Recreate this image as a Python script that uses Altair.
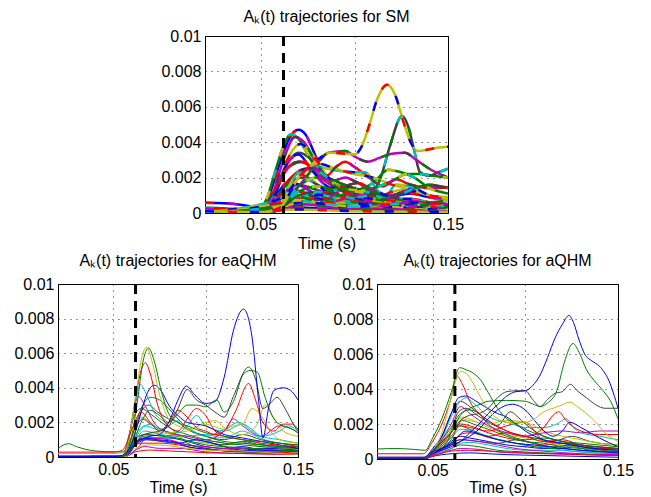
import altair as alt
import pandas as pd

# ---------------- data (amplitudes in units of 1e-3) ----------------
X_TICKS = [0.05, 0.1, 0.15]
Y_TICKS = [0, 2, 4, 6, 8, 10]
Y_TICK_LABELS = ["0", "0.002", "0.004", "0.006", "0.008", "0.01"]
X_DOMAIN = [0.02, 0.15]
Y_DOMAIN = [0, 10]
DASH_T = 0.062

TITLES = ["A\u2096(t) trajectories for SM",
          "A\u2096(t) trajectories for eaQHM",
          "A\u2096(t) trajectories for aQHM"]

SM_LOW = [
    [(0.02,0.1),(0.048,0.05),(0.055,0.6),(0.062,1.5),(0.07,2.2),(0.078,1.8),(0.085,1.2),(0.095,0.9),(0.105,0.7),(0.115,1.0),(0.125,1.3),(0.135,1.0),(0.15,0.7)],
    [(0.02,0.05),(0.05,0.05),(0.056,0.5),(0.063,1.2),(0.07,1.6),(0.08,1.3),(0.09,1.0),(0.1,0.6),(0.11,0.5),(0.12,0.8),(0.13,0.6),(0.14,0.4),(0.15,0.3)],
    [(0.02,0.15),(0.048,0.1),(0.055,0.4),(0.062,0.9),(0.07,1.2),(0.08,1.0),(0.09,0.7),(0.1,0.5),(0.11,0.4),(0.12,0.5),(0.13,0.3),(0.15,0.2)],
    [(0.02,0.02),(0.05,0.05),(0.058,0.8),(0.066,2.0),(0.074,2.5),(0.082,2.0),(0.09,1.4),(0.1,1.1),(0.11,0.9),(0.12,0.7),(0.13,0.8),(0.14,0.6),(0.15,0.5)],
    [(0.02,0.05),(0.05,0.1),(0.06,0.7),(0.07,0.9),(0.08,0.8),(0.09,0.6),(0.1,0.5),(0.11,0.6),(0.12,0.4),(0.13,0.3),(0.15,0.2)],
    [(0.02,0.03),(0.052,0.1),(0.06,0.4),(0.068,0.6),(0.078,0.7),(0.088,0.5),(0.098,0.4),(0.108,0.3),(0.118,0.5),(0.128,0.4),(0.14,0.3),(0.15,0.3)],
    [(0.02,0.05),(0.05,0.05),(0.058,1.0),(0.065,1.8),(0.072,1.5),(0.08,1.1),(0.09,1.3),(0.1,1.0),(0.11,0.7),(0.12,0.9),(0.13,1.1),(0.14,0.9),(0.15,0.8)],
    [(0.02,0.02),(0.055,0.2),(0.063,0.5),(0.07,0.4),(0.08,0.6),(0.09,0.4),(0.1,0.3),(0.11,0.3),(0.12,0.2),(0.13,0.25),(0.15,0.15)],
    [(0.02,0.03),(0.05,0.05),(0.058,1.4),(0.065,2.6),(0.072,2.9),(0.08,2.3),(0.088,1.8),(0.095,2.0),(0.1,1.8),(0.11,1.2),(0.12,1.0),(0.13,1.4),(0.14,1.5),(0.15,1.45)],
    [(0.02,0.02),(0.055,0.1),(0.065,0.3),(0.075,0.3),(0.085,0.2),(0.1,0.15),(0.12,0.1),(0.15,0.1)],
    [(0.02,0.05),(0.05,0.05),(0.06,1.1),(0.068,1.3),(0.076,1.0),(0.085,0.8),(0.095,1.5),(0.102,1.7),(0.11,1.3),(0.12,0.9),(0.13,0.7),(0.15,0.5)],
    [(0.02,0.02),(0.05,0.03),(0.057,0.3),(0.065,0.8),(0.075,1.0),(0.085,1.0),(0.095,0.7),(0.105,0.5),(0.115,0.6),(0.125,0.8),(0.14,0.6),(0.15,0.5)],
    [(0.02,0.05),(0.048,0.05),(0.056,0.7),(0.064,1.6),(0.072,2.0),(0.08,1.6),(0.09,1.1),(0.1,0.8),(0.11,0.6),(0.12,0.5),(0.13,0.5),(0.15,0.4)],
    [(0.02,0.02),(0.055,0.05),(0.06,0.2),(0.07,0.3),(0.09,0.2),(0.11,0.2),(0.13,0.15),(0.15,0.1)],
    [(0.02,0.02),(0.05,0.02),(0.06,0.3),(0.07,0.6),(0.08,0.5),(0.09,0.35),(0.1,0.4),(0.11,0.3),(0.12,0.35),(0.13,0.2),(0.15,0.15)],
    [(0.02,0.08),(0.05,0.05),(0.058,0.5),(0.066,0.9),(0.076,0.8),(0.086,0.6),(0.096,0.8),(0.106,0.6),(0.116,0.4),(0.126,0.6),(0.136,0.5),(0.15,0.4)],
    [(0.02,0.02),(0.052,0.05),(0.062,0.2),(0.072,0.5),(0.082,0.4),(0.092,0.25),(0.102,0.2),(0.112,0.25),(0.125,0.2),(0.15,0.1)],
    [(0.02,0.05),(0.05,0.05),(0.057,0.4),(0.064,1.0),(0.072,0.9),(0.08,0.6),(0.09,0.9),(0.1,1.2),(0.11,1.0),(0.12,0.7),(0.13,0.5),(0.14,0.6),(0.15,0.7)],
    [(0.02,0.02),(0.053,0.1),(0.06,0.5),(0.07,0.7),(0.08,0.55),(0.09,0.45),(0.1,0.35),(0.11,0.45),(0.12,0.6),(0.13,0.45),(0.15,0.3)],
    [(0.02,0.03),(0.05,0.03),(0.06,0.15),(0.07,0.2),(0.085,0.15),(0.1,0.1),(0.12,0.08),(0.15,0.05)],
]
SM_LOW_COLORS = "YMGRCKBYMGRCKBYRMGCY"

SM_MAIN = [
    [(0.02,0.58),(0.03,0.55),(0.04,0.45),(0.047,0.3),(0.05,0.2),(0.055,1.2),(0.06,2.8),(0.065,4.2),(0.07,4.7),(0.074,4.4),(0.078,3.5),(0.083,2.3),(0.088,1.6),(0.093,1.3),(0.1,0.9),(0.11,0.6),(0.12,0.5),(0.13,0.4),(0.14,0.35),(0.15,0.3)],
    [(0.02,0.3),(0.04,0.2),(0.048,0.1),(0.053,0.8),(0.058,2.5),(0.062,3.8),(0.066,4.45),(0.07,4.2),(0.075,3.3),(0.08,2.4),(0.085,2.0),(0.09,1.6),(0.1,1.0),(0.11,0.7),(0.12,0.6),(0.13,0.5),(0.15,0.4)],
    [(0.02,0.05),(0.05,0.05),(0.056,1.0),(0.062,3.0),(0.068,4.3),(0.073,4.0),(0.078,3.1),(0.085,2.0),(0.095,1.2),(0.11,0.8),(0.13,0.5),(0.15,0.4)],
    [(0.02,0.05),(0.052,0.1),(0.058,1.2),(0.064,3.0),(0.071,3.9),(0.077,3.4),(0.082,2.6),(0.09,1.5),(0.1,1.0),(0.12,0.7),(0.15,0.5)],
    [(0.02,0.02),(0.05,0.05),(0.056,0.8),(0.063,2.6),(0.07,3.4),(0.076,3.1),(0.082,2.3),(0.09,1.8),(0.1,1.4),(0.11,1.1),(0.12,0.9),(0.13,1.3),(0.14,1.6),(0.15,1.4)],
    [(0.02,0.05),(0.05,0.05),(0.057,0.9),(0.064,2.8),(0.07,3.3),(0.076,2.6),(0.082,1.8),(0.088,1.4),(0.095,1.5),(0.1,1.1),(0.11,0.6),(0.12,0.5),(0.13,0.6),(0.15,0.5)],
    [(0.02,0.25),(0.045,0.2),(0.05,0.2),(0.056,1.1),(0.062,2.3),(0.07,2.9),(0.078,2.6),(0.085,2.1),(0.09,2.6),(0.095,2.9),(0.1,2.6),(0.108,2.0),(0.115,1.5),(0.122,1.9),(0.13,1.6),(0.14,1.4),(0.15,1.45)],
    [(0.02,0.02),(0.06,0.3),(0.07,1.0),(0.08,1.2),(0.09,1.0),(0.1,0.9),(0.108,1.0),(0.114,2.0),(0.119,3.8),(0.1254,5.48),(0.129,4.8),(0.132,3.5),(0.135,2.3),(0.14,2.1),(0.145,2.3),(0.15,2.5)],
    [(0.02,0.05),(0.06,0.5),(0.07,1.5),(0.08,2.8),(0.086,3.4),(0.095,3.5),(0.1,3.2),(0.107,2.9),(0.113,3.1),(0.12,3.35),(0.127,3.4),(0.133,3.0),(0.14,2.5),(0.15,2.0)],
    [(0.02,0.05),(0.06,0.3),(0.07,1.5),(0.08,2.0),(0.09,1.6),(0.1,1.3),(0.11,1.7),(0.118,2.45),(0.125,2.3),(0.132,2.0),(0.14,1.4),(0.15,1.1)],
    [(0.02,0.05),(0.06,0.8),(0.07,2.3),(0.08,2.6),(0.09,2.4),(0.1,2.3),(0.106,2.3),(0.112,1.3),(0.117,1.0),(0.122,1.6),(0.13,1.5),(0.14,1.0),(0.15,0.8)],
    [(0.02,0.03),(0.06,0.6),(0.07,2.0),(0.08,2.8),(0.09,2.5),(0.1,2.2),(0.11,2.0),(0.12,1.6),(0.13,1.3),(0.14,1.0),(0.15,0.9)],
    [(0.02,0.02),(0.06,0.4),(0.07,1.2),(0.08,1.5),(0.09,1.3),(0.1,1.2),(0.11,1.4),(0.12,1.8),(0.128,2.2),(0.135,2.2),(0.142,2.1),(0.15,2.0)],
    [(0.02,0.1),(0.05,0.05),(0.06,0.3),(0.07,2.0),(0.08,3.0),(0.087,3.4),(0.095,3.35),(0.1,3.3),(0.104,3.8),(0.108,5.0),(0.112,6.4),(0.1175,7.25),(0.122,6.6),(0.126,5.2),(0.13,4.0),(0.134,3.5),(0.14,3.6),(0.145,3.7),(0.15,3.75)],
]
SM_MAIN_COLORS = "BGMYKBRKMGCYGY"

EA_LOW = [
    [(0.02,0.02),(0.056,0.05),(0.06,0.5),(0.064,1.0),(0.07,1.1),(0.08,1.1),(0.09,0.9),(0.1,0.6),(0.11,0.5),(0.12,0.6),(0.13,0.4),(0.14,0.35),(0.15,0.3)],
    [(0.02,0.05),(0.057,0.05),(0.062,0.8),(0.066,1.2),(0.075,1.25),(0.085,1.2),(0.09,0.8),(0.1,0.5),(0.11,0.4),(0.12,0.5),(0.13,0.3),(0.15,0.2)],
    [(0.02,0.02),(0.056,0.05),(0.061,0.6),(0.065,0.8),(0.075,0.8),(0.085,0.7),(0.095,0.5),(0.105,0.4),(0.12,0.3),(0.135,0.3),(0.15,0.2)],
    [(0.02,0.03),(0.056,0.05),(0.062,1.0),(0.067,1.5),(0.072,1.4),(0.08,1.2),(0.088,1.0),(0.095,0.8),(0.105,0.9),(0.115,0.7),(0.125,0.9),(0.135,0.6),(0.15,0.5)],
    [(0.02,0.02),(0.057,0.05),(0.062,0.4),(0.067,0.6),(0.075,0.5),(0.085,0.5),(0.1,0.3),(0.12,0.2),(0.15,0.15)],
    [(0.02,0.2),(0.05,0.2),(0.056,0.25),(0.061,0.9),(0.066,1.3),(0.075,1.4),(0.082,1.3),(0.09,1.1),(0.1,0.8),(0.11,0.7),(0.12,0.8),(0.13,0.6),(0.14,0.5),(0.15,0.5)],
    [(0.02,0.02),(0.056,0.05),(0.062,1.7),(0.066,2.2),(0.07,1.9),(0.078,1.5),(0.085,1.3),(0.09,1.1),(0.1,0.9),(0.11,0.7),(0.12,0.9),(0.13,0.7),(0.15,0.6)],
    [(0.02,0.02),(0.057,0.05),(0.062,0.7),(0.068,1.0),(0.076,0.9),(0.085,0.8),(0.095,1.0),(0.1,0.9),(0.11,0.6),(0.12,0.4),(0.13,0.5),(0.15,0.4)],
    [(0.02,0.02),(0.056,0.05),(0.061,2.3),(0.065,2.8),(0.07,2.5),(0.076,2.0),(0.082,1.6),(0.09,1.3),(0.1,1.0),(0.11,0.8),(0.12,0.7),(0.13,0.6),(0.15,0.5)],
    [(0.02,0.02),(0.057,0.05),(0.062,0.3),(0.07,0.4),(0.08,0.35),(0.09,0.3),(0.1,0.25),(0.12,0.2),(0.15,0.15)],
    [(0.02,0.02),(0.056,0.05),(0.062,1.3),(0.067,1.8),(0.073,1.6),(0.08,1.4),(0.09,1.2),(0.1,1.3),(0.11,1.1),(0.12,1.5),(0.125,1.3),(0.135,0.9),(0.15,0.7)],
    [(0.02,0.02),(0.056,0.05),(0.063,0.5),(0.068,1.1),(0.08,1.0),(0.09,0.7),(0.1,0.6),(0.11,0.5),(0.12,0.5),(0.13,0.4),(0.15,0.3)],
    [(0.02,0.02),(0.057,0.05),(0.062,0.9),(0.067,1.0),(0.075,0.95),(0.085,0.8),(0.095,0.6),(0.11,0.35),(0.13,0.25),(0.15,0.2)],
    [(0.02,0.05),(0.056,0.05),(0.061,0.7),(0.066,1.1),(0.074,1.0),(0.082,0.9),(0.09,0.6),(0.1,0.45),(0.115,0.35),(0.13,0.4),(0.15,0.35)],
    [(0.02,0.02),(0.057,0.03),(0.062,0.5),(0.07,0.7),(0.08,0.65),(0.09,0.5),(0.1,0.4),(0.12,0.35),(0.14,0.2),(0.15,0.15)],
    [(0.02,0.02),(0.056,0.05),(0.062,1.1),(0.068,1.3),(0.076,1.2),(0.084,1.1),(0.092,0.9),(0.1,0.7),(0.11,0.6),(0.125,0.5),(0.14,0.4),(0.15,0.35)],
]
EA_LOW_COLORS = "BGRCMYKBGRCMKBYG"

EA_MAIN = [
    [(0.02,0.5),(0.0257,0.77),(0.03,0.6),(0.04,0.35),(0.05,0.3),(0.055,0.3),(0.06,1.2),(0.065,2.8),(0.07,3.45),(0.075,3.3),(0.08,2.8),(0.085,2.2),(0.09,1.7),(0.1,1.2),(0.11,0.9),(0.12,0.8),(0.13,0.7),(0.15,0.5)],
    [(0.02,0.02),(0.055,0.05),(0.059,1.5),(0.0635,3.5),(0.067,3.0),(0.072,2.0),(0.08,1.4),(0.09,1.2),(0.1,1.0),(0.11,1.5),(0.115,2.2),(0.12,1.8),(0.13,1.2),(0.14,1.8),(0.145,1.7),(0.15,1.4)],
    [(0.02,0.02),(0.055,0.05),(0.06,0.9),(0.065,2.6),(0.069,3.0),(0.074,2.6),(0.08,2.2),(0.085,2.0),(0.09,1.6),(0.1,1.2),(0.11,1.0),(0.12,1.3),(0.13,1.0),(0.14,0.8),(0.15,0.7)],
    [(0.02,0.02),(0.056,0.05),(0.06,1.0),(0.065,2.3),(0.07,2.0),(0.075,1.6),(0.08,1.4),(0.09,1.5),(0.1,2.0),(0.105,2.1),(0.11,1.7),(0.115,1.4),(0.12,1.3),(0.128,1.9),(0.132,3.0),(0.136,2.4),(0.142,1.5),(0.15,1.2)],
    [(0.02,0.02),(0.056,0.05),(0.06,0.6),(0.065,1.6),(0.07,1.9),(0.075,1.6),(0.08,1.8),(0.085,2.1),(0.09,1.7),(0.1,1.2),(0.11,1.6),(0.118,2.0),(0.125,1.5),(0.13,1.2),(0.14,1.5),(0.145,1.8),(0.15,1.5)],
    [(0.02,0.02),(0.055,0.05),(0.058,1.0),(0.062,3.2),(0.0645,4.2),(0.068,3.6),(0.072,2.6),(0.078,2.0),(0.085,1.4),(0.09,1.8),(0.095,2.4),(0.1,1.8),(0.11,1.5),(0.12,1.9),(0.125,1.6),(0.13,1.2),(0.14,1.0),(0.15,0.8)],
    [(0.02,0.02),(0.055,0.05),(0.06,0.8),(0.064,2.2),(0.068,3.6),(0.072,4.15),(0.076,3.8),(0.08,3.0),(0.085,2.4),(0.09,2.0),(0.1,1.8),(0.11,1.3),(0.12,1.1),(0.13,0.9),(0.14,0.7),(0.15,0.5)],
    [(0.02,0.02),(0.055,0.05),(0.058,0.9),(0.062,3.4),(0.065,5.0),(0.0673,5.45),(0.07,4.8),(0.074,3.0),(0.078,2.0),(0.085,1.5),(0.09,2.2),(0.095,2.8),(0.1,2.4),(0.105,1.5),(0.11,1.2),(0.12,1.0),(0.13,0.8),(0.15,0.6)],
    [(0.02,0.02),(0.055,0.05),(0.059,0.8),(0.063,3.2),(0.066,5.5),(0.069,6.3),(0.072,5.6),(0.076,3.8),(0.08,2.5),(0.085,2.0),(0.09,1.8),(0.1,1.4),(0.11,1.2),(0.12,1.0),(0.13,0.9),(0.14,0.8),(0.15,0.6)],
    [(0.02,0.02),(0.055,0.05),(0.058,0.8),(0.062,3.5),(0.066,6.0),(0.068,6.35),(0.071,5.5),(0.075,3.6),(0.08,2.2),(0.085,1.8),(0.09,1.6),(0.1,1.9),(0.11,1.6),(0.115,1.8),(0.12,1.9),(0.125,2.8),(0.13,2.4),(0.135,1.5),(0.14,1.0),(0.15,0.8)],
    [(0.02,0.28),(0.05,0.28),(0.055,0.4),(0.06,1.6),(0.065,2.6),(0.07,2.0),(0.075,1.5),(0.08,2.0),(0.085,2.7),(0.09,2.3),(0.095,1.7),(0.1,1.5),(0.105,1.3),(0.11,1.5),(0.116,2.6),(0.1233,4.25),(0.127,3.3),(0.131,2.0),(0.137,1.5),(0.142,1.9),(0.147,1.9),(0.15,1.6)],
    [(0.02,0.02),(0.055,0.05),(0.06,0.6),(0.065,2.0),(0.07,2.7),(0.075,2.4),(0.08,2.0),(0.085,2.5),(0.09,3.0),(0.095,3.0),(0.1,2.9),(0.106,3.3),(0.11,2.6),(0.115,3.2),(0.1205,4.8),(0.124,5.0),(0.128,4.9),(0.132,3.5),(0.137,2.2),(0.142,1.8),(0.147,1.6),(0.15,1.4)],
    [(0.02,0.02),(0.055,0.05),(0.06,0.5),(0.065,1.2),(0.07,1.4),(0.075,1.5),(0.08,1.8),(0.085,2.8),(0.09,3.9),(0.095,3.3),(0.1,3.0),(0.105,2.6),(0.11,2.3),(0.115,3.5),(0.1233,5.2),(0.127,4.5),(0.131,2.8),(0.135,3.1),(0.1386,3.45),(0.143,2.8),(0.148,1.8),(0.15,1.5)],
    [(0.02,0.02),(0.05,0.02),(0.055,0.1),(0.06,0.6),(0.065,1.0),(0.07,1.2),(0.075,1.3),(0.08,2.0),(0.085,3.3),(0.0895,4.1),(0.094,3.6),(0.1,3.1),(0.105,3.2),(0.11,4.6),(0.115,7.3),(0.1205,8.55),(0.125,7.0),(0.1287,3.2),(0.131,1.1),(0.134,2.8),(0.137,3.85),(0.142,4.0),(0.146,3.85),(0.15,3.3)],
]
EA_MAIN_COLORS = "GMKYCCBRGYRGKB"

AQ_LOW = [
    [(0.02,0.05),(0.046,0.05),(0.05,0.3),(0.055,0.6),(0.06,1.0),(0.065,1.3),(0.07,1.2),(0.08,1.0),(0.09,0.8),(0.1,0.7),(0.11,0.6),(0.12,0.6),(0.13,0.5),(0.15,0.4)],
    [(0.02,0.02),(0.046,0.03),(0.05,0.2),(0.055,0.4),(0.06,0.6),(0.065,0.8),(0.075,0.7),(0.085,0.5),(0.1,0.4),(0.12,0.3),(0.15,0.2)],
    [(0.02,0.1),(0.046,0.1),(0.05,0.5),(0.055,1.0),(0.06,1.6),(0.065,2.0),(0.07,1.9),(0.08,1.5),(0.09,1.2),(0.1,1.0),(0.11,0.8),(0.12,0.9),(0.13,0.7),(0.14,0.6),(0.15,0.5)],
    [(0.02,0.02),(0.046,0.03),(0.05,0.3),(0.06,1.2),(0.065,1.7),(0.072,1.6),(0.08,1.3),(0.09,1.0),(0.1,0.8),(0.11,0.7),(0.12,0.5),(0.13,0.4),(0.15,0.3)],
    [(0.02,0.05),(0.046,0.05),(0.05,0.2),(0.06,0.5),(0.065,0.6),(0.075,0.55),(0.085,0.4),(0.095,0.35),(0.11,0.3),(0.13,0.25),(0.15,0.2)],
    [(0.02,0.02),(0.046,0.03),(0.05,0.4),(0.056,1.0),(0.062,2.0),(0.066,2.4),(0.072,2.2),(0.08,1.8),(0.09,1.4),(0.1,1.2),(0.11,1.0),(0.12,0.8),(0.13,0.7),(0.14,0.6),(0.15,0.5)],
    [(0.02,0.02),(0.046,0.03),(0.05,0.25),(0.06,0.9),(0.065,1.1),(0.075,1.0),(0.085,0.9),(0.095,1.1),(0.105,0.9),(0.115,0.7),(0.125,0.8),(0.135,0.6),(0.15,0.4)],
    [(0.02,0.02),(0.046,0.03),(0.05,0.15),(0.06,0.3),(0.07,0.35),(0.08,0.3),(0.09,0.25),(0.11,0.2),(0.13,0.15),(0.15,0.1)],
    [(0.02,0.05),(0.046,0.05),(0.05,0.4),(0.058,1.3),(0.064,1.9),(0.07,1.7),(0.078,1.3),(0.086,1.1),(0.095,0.9),(0.105,0.7),(0.115,0.6),(0.125,0.7),(0.135,0.5),(0.15,0.4)],
    [(0.02,0.02),(0.046,0.03),(0.05,0.3),(0.06,0.8),(0.065,1.4),(0.07,1.5),(0.08,1.3),(0.09,1.5),(0.1,1.3),(0.11,1.0),(0.12,1.1),(0.13,0.8),(0.14,0.6),(0.15,0.6)],
    [(0.02,0.02),(0.046,0.03),(0.05,0.2),(0.06,0.6),(0.065,0.9),(0.07,0.95),(0.08,0.8),(0.09,0.6),(0.1,0.5),(0.12,0.5),(0.13,0.4),(0.15,0.3)],
    [(0.02,0.02),(0.046,0.03),(0.05,0.3),(0.058,1.0),(0.064,2.7),(0.068,2.9),(0.074,2.5),(0.08,2.1),(0.088,1.7),(0.095,1.4),(0.105,1.2),(0.115,1.0),(0.125,1.3),(0.135,1.0),(0.15,0.8)],
    [(0.02,0.02),(0.046,0.03),(0.05,0.2),(0.058,0.7),(0.065,1.1),(0.075,1.0),(0.085,0.8),(0.095,0.6),(0.11,0.45),(0.13,0.3),(0.15,0.25)],
    [(0.02,0.05),(0.046,0.05),(0.05,0.3),(0.06,0.9),(0.068,1.6),(0.076,1.4),(0.085,1.1),(0.095,0.9),(0.105,0.8),(0.12,0.6),(0.135,0.45),(0.15,0.35)],
    [(0.02,0.02),(0.046,0.03),(0.05,0.15),(0.06,0.45),(0.07,0.5),(0.08,0.45),(0.09,0.4),(0.1,0.35),(0.12,0.3),(0.15,0.2)],
    [(0.02,0.02),(0.046,0.03),(0.05,0.35),(0.06,1.1),(0.066,2.2),(0.072,2.0),(0.08,1.7),(0.09,1.3),(0.1,1.0),(0.11,0.9),(0.12,0.7),(0.13,0.6),(0.15,0.5)],
]
AQ_LOW_COLORS = "BGRCMYKBGRCKMBRG"

AQ_MAIN = [
    [(0.02,0.02),(0.046,0.05),(0.05,0.3),(0.06,1.3),(0.065,1.9),(0.07,1.8),(0.08,1.6),(0.09,1.9),(0.1,2.1),(0.105,1.6),(0.11,1.0),(0.12,0.9),(0.13,0.8),(0.15,0.6)],
    [(0.02,0.02),(0.046,0.05),(0.05,0.3),(0.06,1.6),(0.065,2.3),(0.07,2.2),(0.08,2.0),(0.09,2.2),(0.1,2.1),(0.11,1.6),(0.12,1.3),(0.13,1.1),(0.14,0.9),(0.15,0.8)],
    [(0.02,0.05),(0.046,0.05),(0.05,0.5),(0.06,1.8),(0.065,2.6),(0.07,2.8),(0.075,2.6),(0.08,2.0),(0.09,1.4),(0.1,1.1),(0.11,1.2),(0.12,1.0),(0.13,0.8),(0.15,0.6)],
    [(0.02,0.05),(0.046,0.05),(0.05,0.4),(0.06,2.0),(0.065,3.0),(0.07,2.6),(0.08,1.9),(0.09,1.5),(0.1,1.3),(0.11,1.5),(0.12,1.6),(0.13,1.5),(0.14,1.6),(0.15,1.6)],
    [(0.02,0.05),(0.046,0.05),(0.05,0.4),(0.055,1.3),(0.06,2.6),(0.065,3.3),(0.07,3.0),(0.075,2.6),(0.08,2.2),(0.085,1.9),(0.092,2.7),(0.096,2.4),(0.1,2.0),(0.11,1.3),(0.12,1.0),(0.13,0.8),(0.15,0.6)],
    [(0.02,0.05),(0.046,0.05),(0.05,0.5),(0.055,1.2),(0.06,2.4),(0.065,3.3),(0.068,3.5),(0.072,3.2),(0.078,2.6),(0.085,2.2),(0.09,2.1),(0.1,1.8),(0.11,1.8),(0.117,2.0),(0.122,2.3),(0.126,1.8),(0.13,1.5),(0.14,1.3),(0.15,1.1)],
    [(0.02,0.02),(0.046,0.05),(0.05,0.3),(0.06,0.7),(0.065,1.0),(0.07,1.3),(0.075,1.7),(0.08,2.3),(0.085,2.8),(0.093,3.13),(0.1,2.8),(0.105,2.2),(0.11,1.6),(0.115,1.3),(0.12,1.6),(0.124,2.1),(0.13,1.8),(0.14,1.2),(0.15,0.7)],
    [(0.02,0.1),(0.046,0.1),(0.05,0.6),(0.055,1.3),(0.06,2.6),(0.064,3.5),(0.068,3.6),(0.072,3.4),(0.078,3.0),(0.085,2.6),(0.09,2.4),(0.095,2.0),(0.1,1.6),(0.11,1.1),(0.12,0.9),(0.13,0.7),(0.15,0.5)],
    [(0.02,0.3),(0.045,0.3),(0.05,1.0),(0.055,2.0),(0.06,3.5),(0.063,4.75),(0.066,4.3),(0.07,3.3),(0.075,2.6),(0.08,2.2),(0.09,1.6),(0.1,1.3),(0.11,1.8),(0.115,2.5),(0.118,2.7),(0.122,2.2),(0.13,1.6),(0.14,1.4),(0.15,1.4)],
    [(0.02,0.05),(0.045,0.05),(0.05,0.5),(0.055,1.5),(0.06,3.5),(0.065,5.0),(0.068,4.9),(0.072,4.3),(0.076,3.5),(0.08,2.8),(0.085,2.3),(0.09,2.1),(0.1,2.1),(0.105,2.3),(0.11,2.7),(0.115,2.9),(0.12,3.1),(0.124,3.25),(0.128,3.0),(0.133,2.6),(0.138,2.1),(0.143,1.5),(0.15,1.0)],
    [(0.02,0.57),(0.03,0.6),(0.04,0.55),(0.046,0.5),(0.05,1.2),(0.055,2.3),(0.06,3.8),(0.0646,5.22),(0.068,5.1),(0.072,4.9),(0.076,4.5),(0.08,3.8),(0.085,2.9),(0.09,2.3),(0.095,2.0),(0.1,1.7),(0.11,1.3),(0.12,1.0),(0.13,0.9),(0.14,0.8),(0.15,0.7)],
    [(0.02,0.05),(0.045,0.05),(0.05,0.5),(0.06,1.5),(0.065,2.2),(0.07,2.5),(0.075,2.6),(0.08,2.9),(0.085,3.5),(0.09,3.85),(0.095,3.9),(0.1,3.9),(0.104,3.4),(0.108,3.0),(0.112,3.4),(0.116,3.75),(0.12,3.85),(0.1243,4.27),(0.128,3.9),(0.133,3.5),(0.138,3.1),(0.143,2.9),(0.15,2.9)],
    [(0.02,0.05),(0.045,0.05),(0.05,0.4),(0.06,1.5),(0.065,2.5),(0.07,2.9),(0.075,3.1),(0.08,3.3),(0.09,3.35),(0.1,3.3),(0.105,3.1),(0.108,3.0),(0.112,3.2),(0.117,3.9),(0.121,5.5),(0.1257,6.6),(0.129,6.1),(0.133,5.1),(0.137,4.5),(0.142,3.9),(0.146,3.3),(0.15,2.3)],
    [(0.02,0.05),(0.045,0.05),(0.048,0.3),(0.055,0.6),(0.06,0.8),(0.065,1.0),(0.07,1.5),(0.075,2.0),(0.08,2.6),(0.085,3.1),(0.09,3.6),(0.095,3.85),(0.1,3.9),(0.104,4.2),(0.108,4.8),(0.112,5.8),(0.116,6.9),(0.12,7.7),(0.1235,8.2),(0.126,7.8),(0.129,6.8),(0.132,6.0),(0.136,5.6),(0.14,5.3),(0.145,4.5),(0.15,2.9)],
]
AQ_MAIN_COLORS = "RYGMKCBBRYGKGB"

# ---------------- styling ----------------
PALETTE = {"B": "#0000ff", "G": "#008000", "R": "#ff0000", "C": "#00bfbf",
           "M": "#bf00bf", "Y": "#bfbf00", "K": "#404040"}
ORDER = "BGRCMYK"
FONT = "Liberation Sans"


def build_frame(groups):
    rows = []
    k = 0
    for series_list, codes in groups:
        for pts, code in zip(series_list, codes):
            i = ORDER.index(code)
            for t, v in pts:
                rows.append({"series": f"s{k:03d}", "t": t, "v": v,
                             "c1": PALETTE[code],
                             "c2": PALETTE[ORDER[(i + 2) % 7]],
                             "c3": PALETTE[ORDER[(i + 4) % 7]]})
            k += 1
    return pd.DataFrame(rows)


Y_LABEL_EXPR = "[" + ",".join(f"'{s}'" for s in Y_TICK_LABELS) + "][datum.value/2]"


def panel(df, title, w, h, lw, multi, title_offset, label_pad, title_pad):
    x = alt.X("t:Q", scale=alt.Scale(domain=X_DOMAIN, nice=False, zero=False),
              axis=alt.Axis(values=X_TICKS, format="~g", title="Time (s)",
                            labelFlush=False, labelPadding=label_pad,
                            titlePadding=title_pad))
    y = alt.Y("v:Q", scale=alt.Scale(domain=Y_DOMAIN, nice=False),
              axis=alt.Axis(values=Y_TICKS, labelExpr=Y_LABEL_EXPR, title=None,
                            labelPadding=4))
    base = alt.Chart(df)
    layers = [base.mark_line(strokeWidth=lw, interpolate="monotone", clip=True).encode(
        x=x, y=y, color=alt.Color("c1:N", scale=None), detail="series:N")]
    if multi:
        layers.append(base.mark_line(strokeWidth=lw, interpolate="monotone", clip=True,
                                     strokeDash=[9, 36]).encode(
            x=x, y=y, color=alt.Color("c2:N", scale=None), detail="series:N"))
        layers.append(base.mark_line(strokeWidth=lw, interpolate="monotone", clip=True,
                                     strokeDash=[9, 36], strokeDashOffset=22).encode(
            x=x, y=y, color=alt.Color("c3:N", scale=None), detail="series:N"))
    dash = alt.Chart(pd.DataFrame({"t": [DASH_T]})).mark_rule(
        color="black", strokeWidth=3, strokeDash=[10, 7]).encode(x=alt.X("t:Q"))
    return alt.layer(*layers, dash).properties(
        width=w, height=h,
        title=alt.TitleParams(title, fontSize=16, offset=title_offset))


sm_df = build_frame([(SM_LOW, SM_LOW_COLORS), (SM_MAIN, SM_MAIN_COLORS)])
ea_df = build_frame([(EA_LOW, EA_LOW_COLORS), (EA_MAIN, EA_MAIN_COLORS)])
aq_df = build_frame([(AQ_LOW, AQ_LOW_COLORS), (AQ_MAIN, AQ_MAIN_COLORS)])

top = panel(sm_df, TITLES[0], 243, 177, 2.5, True, 3, 3, 3)
bl = panel(ea_df, TITLES[1], 240, 173, 1, False, 7, 4, 2)
br = panel(aq_df, TITLES[2], 241, 175, 1, False, 7, 3, 1)

spacer = alt.Chart(pd.DataFrame({"t": [0]})).mark_point(opacity=0).encode(
    x=alt.value(0), y=alt.value(0)).properties(
    width=102, height=10, view=alt.ViewBackground(strokeOpacity=0))

chart = alt.vconcat(
    alt.hconcat(spacer, top, spacing=0),
    alt.hconcat(bl, br, spacing=17),
    spacing=0,
).properties(
    padding={"left": 5, "top": 0, "right": 5, "bottom": 0}
).configure_axis(
    labelFont=FONT, labelFontSize=16, labelColor="black",
    titleFont=FONT, titleFontSize=16, titleFontWeight="normal", titleColor="black",
    domainColor="black", ticks=False, tickSize=0,
    gridColor="#000000", gridDash=[1, 5], gridOpacity=0.8, gridWidth=1,
).configure_view(
    stroke="black", strokeWidth=1
).configure_title(
    font=FONT, fontSize=16, fontWeight="normal", color="black", anchor="middle"
)

chart.save("out.html", embed_options={"renderer": "svg", "actions": False})
